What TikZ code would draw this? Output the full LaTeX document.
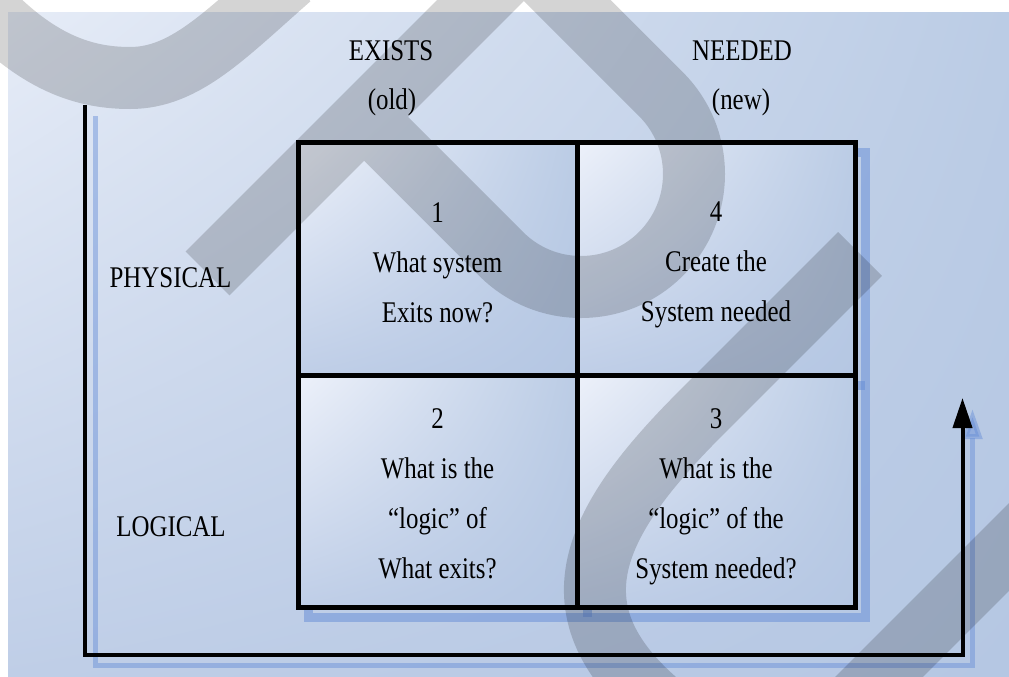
\documentclass[tikz,border=0pt]{standalone}
\usepackage{fontspec}
\setmainfont{Liberation Serif}[FakeStretch=0.83]
\usetikzlibrary{arrows.meta,shadings}

\definecolor{bgA}{RGB}{230,236,247}
\definecolor{bgB}{RGB}{187,204,229}
\definecolor{bgC}{RGB}{191,206,231}
\definecolor{bgD}{RGB}{181,199,227}
\definecolor{cellA}{RGB}{237,241,250}
\definecolor{shadowblue}{RGB}{100,140,215}

\begin{document}
\begin{tikzpicture}[x=1pt,y=-1pt,
  lbl/.style={inner sep=0pt, text=black, font=\fontsize{30}{50}\selectfont},
  celltext/.style={lbl, align=center, anchor=north},
  cell/.style={draw=black, line width=5pt, rectangle, inner sep=0pt,
    upper left=cellA, upper right=bgB, lower left=bgC, lower right=bgD},
  gridshadow/.style={draw=shadowblue, draw opacity=0.5, line width=9pt},
  flowline/.style={draw=black, line width=4pt, line join=miter,
    -{Triangle[length=30pt,width=19pt]}},
  flowshadow/.style={draw=shadowblue, opacity=0.45,
    line width=5pt, line join=miter, -{Triangle[length=30pt,width=19pt]}},
  band/.style={draw=black, line width=62pt, line cap=butt, line join=miter}
]
\useasboundingbox (0,0) rectangle (1009,677);

% page and tinted panel
\fill[white] (0,0) rectangle (1009,677);
\shade[upper left=bgA, upper right=bgB, lower left=bgC, lower right=bgD]
  (8,13) rectangle (1009,677);

% corner points of the matrix and of the flow line
\coordinate (gnw) at (298,142);
\coordinate (gse) at (855,607);
\coordinate (gmid) at (577,375);
\coordinate (la) at (85,105);
\coordinate (lb) at (85,654.5);
\coordinate (lc) at (962.5,654.5);
\coordinate (ld) at (962.5,398);

% drop shadows
\draw[flowshadow] ([shift={(10,11)}]la) -- ([shift={(10,11)}]lb) -- ([shift={(10,11)}]lc) -- ([shift={(10,11)}]ld);
\draw[gridshadow] ([shift={(10,10)}]gnw) rectangle ([shift={(10,10)}]gse);
\draw[gridshadow] ([shift={(10,10)}]gnw -| gmid) -- ([shift={(10,10)}]gse -| gmid);
\draw[gridshadow] ([shift={(10,10)}]gnw |- gmid) -- ([shift={(10,10)}]gse |- gmid);

% the four quadrants
\node[cell, minimum width=279pt, minimum height=233pt] (c1) at (437.5,258.5) {};
\node[cell, minimum width=278pt, minimum height=233pt] (c4) at (716,258.5) {};
\node[cell, minimum width=279pt, minimum height=232pt] (c2) at (437.5,491) {};
\node[cell, minimum width=278pt, minimum height=232pt] (c3) at (716,491) {};

% flow line round the matrix
\draw[flowline] (la) -- (lb) -- (lc) -- (ld);

% headings
\node[lbl, anchor=base] (exists) at (391,61) {EXISTS};
\node[lbl, anchor=base] (old) at (392,109) {(old)};
\node[lbl, anchor=base] (needed) at (742,61) {NEEDED};
\node[lbl, anchor=base] (new) at (741,109) {(new)};
\node[lbl, anchor=base] (physical) at (170.5,287) {PHYSICAL};
\node[lbl, anchor=base] (logical) at (171,536) {LOGICAL};

% quadrant texts
\node[celltext] (t1) at (437.5,202) {1\\What system\\Exits now?};
\node[celltext] (t4) at (716,202) {4\\Create the\\System needed};
\node[celltext] (t2) at (437.5,408) {2\\What is the\\“logic” of\\What exits?};
\node[celltext] (t3) at (716,408) {3\\What is the\\“logic” of the\\System needed?};

% translucent grey strokes over everything
\begin{scope}[transparency group, opacity=0.17]
  \draw[band] (-30,-10) .. controls (30,60) and (80,78) .. (130,78)
              .. controls (185,78) and (225,35) .. (290,-22);
  \draw[band] (207.5,273.5) -- (523.9,-42.9) -- (660.9,94.1)
              arc[start angle=-45, end angle=135, radius=113] -- (364.1,116.9);
  \draw[band] (860,254) -- (700,414) .. controls (585,529) and (545,620) .. (680,720);
  \draw[band] (1060,496) -- (830,726);
\end{scope}
\end{tikzpicture}
\end{document}
